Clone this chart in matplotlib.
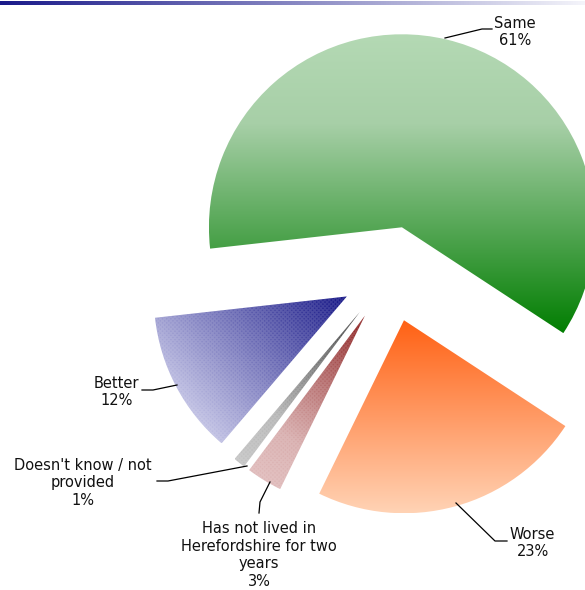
import numpy as np
import matplotlib
matplotlib.use('Agg')
from matplotlib import pyplot as plt
from matplotlib.colors import to_rgb
from matplotlib.patches import Wedge

# survey answers, counter-clockwise from the right-hand edge of "Same"
labels = ['Same', 'Better', "Doesn't know / not\nprovided",
          'Has not lived in\nHerefordshire for two\nyears', 'Worse']
values = [61, 12, 1, 3, 23]
percent_labels = ['61%', '12%', '1%', '3%', '23%']

W, H = 585, 590
center = (391, H - 273)
radius = 193
explode = [47, 50, 50, 50, 49]


def gradient_fill(ax, wedge, stops, angle=None, n=300):
    # paint a colour ramp inside a wedge: top-to-bottom when angle is None,
    # otherwise from the apex outwards along the given direction
    x0, y0, x1, y1 = wedge.get_path().get_extents(wedge.get_patch_transform()).extents
    xs = np.linspace(x0, x1, n)
    ys = np.linspace(y0, y1, n)
    X, Y = np.meshgrid(xs, ys)
    if angle is None:
        t = (y1 - Y) / (y1 - y0)
    else:
        cx, cy = wedge.center
        a = np.deg2rad(angle)
        t = ((X - cx) * np.cos(a) + (Y - cy) * np.sin(a)) / wedge.r
    t = np.clip(t, 0, 1)
    pos = [s[0] for s in stops]
    cols = np.array([to_rgb(s[1]) for s in stops])
    img = np.dstack([np.interp(t, pos, cols[:, k]) for k in range(3)])
    im = ax.imshow(img, extent=(x0, x1, y0, y1), origin='lower',
                   interpolation='bilinear', zorder=2)
    im.set_clip_path(wedge)


fig = plt.figure(figsize=(W / 100, H / 100), dpi=100)
ax = fig.add_axes([0, 0, 1, 1])

start = -33.25
wedges, _ = ax.pie(values, startangle=start, counterclock=True, radius=radius,
                   center=center, explode=explode, frame=True,
                   wedgeprops=dict(facecolor='none', linewidth=0))

fills = [
    (None, [(0, '#b4d9b4'), (0.3, '#a7cfa7'), (1, '#027e02')]),
    (222, [(0, '#111184'), (1, '#bfbfe3')]),
    (228, [(0, '#3c3c3c'), (0.7, '#b6b6b6'), (1, '#c4c4c4')]),
    (236, [(0, '#8a1c1c'), (0.75, '#d8adad'), (1, '#dfb9b9')]),
    (None, [(0, '#ff6114'), (1, '#ffd3b5')]),
]
for w, (angle, stops) in zip(wedges, fills):
    gradient_fill(ax, w, stops, angle)

# fine cross-hatch texture on the three left-hand slices
for w in wedges[1:4]:
    tex = Wedge(w.center, w.r, w.theta1, w.theta2, facecolor='none',
                edgecolor=(1, 1, 1, 0.12), linewidth=0, hatch='xxxxxxxx', zorder=3)
    ax.add_patch(tex)

# label blocks (centre of text) and leader lines, in pixel positions from the top
label_pos = [(515, 32), (116.5, 392), (83, 483), (259, 555), (532.5, 543)]
leaders = [
    [(445, 38), (482, 29), (492, 29)],
    [(142, 390), (153, 390), (177, 385)],
    [(157, 481), (168, 481), (247, 466)],
    [(259, 513), (260, 502), (270, 482)],
    [(456, 503), (495, 541), (507, 541)],
]
for name, pct, (lx, ly), pts in zip(labels, percent_labels, label_pos, leaders):
    ax.text(lx, H - ly, name + '\n' + pct, ha='center', va='center',
            multialignment='center', fontsize=10.5, linespacing=1.24,
            color='#111111', zorder=5)
    px = [p[0] for p in pts]
    py = [H - p[1] for p in pts]
    ax.plot(px, py, color='black', linewidth=0.9, zorder=4)

# header rule along the top edge
bar = np.linspace(0, 1, 256)
navy = np.array(to_rgb('#1a1a8a'))
pale = np.array(to_rgb('#f4f4fa'))
bar_img = (navy[None, :] * (1 - bar[:, None]) + pale[None, :] * bar[:, None])[None, :, :]
ax.imshow(bar_img, extent=(0, W, H - 5, H - 1), aspect='auto', zorder=6)

ax.set_xlim(0, W)
ax.set_ylim(0, H)
ax.set_aspect('auto')
ax.axis('off')

plt.savefig('out.png', dpi=100)
